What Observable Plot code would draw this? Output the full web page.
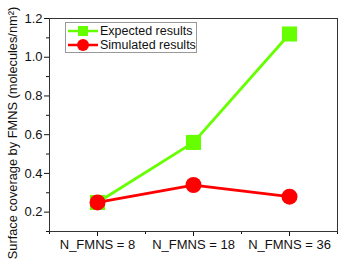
<!DOCTYPE html>
<html><head><meta charset="utf-8">
<script src="https://cdn.jsdelivr.net/npm/d3@7"></script>
<script src="https://cdn.jsdelivr.net/npm/@observablehq/plot@0.6"></script>
<style>
body{margin:0;background:#fff;font-family:"Liberation Sans",Arial,sans-serif;}
#wrap{position:relative;width:340px;height:269px;}
#legend{position:absolute;left:65px;top:22px;width:130px;height:28px;border:1px solid #999;background:#fff;font-size:12.5px;color:#111;padding:1px 0 0 0;}
#legend .row{display:flex;align-items:center;height:14px;}
#legend svg{margin-left:2px;margin-right:2px;}
</style></head><body><div id="wrap"></div>
<script>
const categories = ["N_FMNS = 8", "N_FMNS = 18", "N_FMNS = 36"];
const expected = [0.25, 0.56, 1.12];
const simulated = [0.25, 0.34, 0.28];
const yMajor = [0.2, 0.4, 0.6, 0.8, 1.0, 1.2];
const yMinor = [0.1, 0.3, 0.5, 0.7, 0.9, 1.1];
const seriesNames = ["Expected results", "Simulated results"];
const colors = ["#66ff00", "#ff0000"];
const yLabel = "Surface coverage by FMNS (molecules/nm²)";

const idx = categories.map((_, i) => i);
const xMinor = [-0.5, 0.5, 1.5, 2.5];

const plot = Plot.plot({
  width: 340, height: 269,
  marginLeft: 49, marginRight: 3, marginTop: 18, marginBottom: 38,
  style: {fontFamily: '"Liberation Sans", Arial, sans-serif', fontSize: "13px", color: "#111", background: "white"},
  x: {type: "linear", domain: [-0.5, 2.5]},
  y: {domain: [0.1, 1.2]},
  marks: [
    Plot.axisY({ticks: yMinor, tickSize: 3, tickFormat: () => "", label: null}),
    Plot.axisY({ticks: yMajor, tickSize: 5, tickPadding: 2, tickFormat: d3.format(".1f"), label: null}),
    Plot.text([yLabel], {frameAnchor: "left", textAnchor: "middle", rotate: -90, dx: -37, dy: 8, fontSize: 12.8, fill: "#111", text: d => d}),
    Plot.axisX({ticks: xMinor, tickSize: 3, tickFormat: () => "", label: null}),
    Plot.axisX({ticks: idx, tickSize: 5, tickPadding: 3, tickFormat: i => categories[i], label: null}),
    Plot.frame({stroke: "#333"}),
    Plot.line(idx, {x: i => i, y: i => expected[i], stroke: colors[0], strokeWidth: 2.8}),
    Plot.dot(idx, {x: i => i, y: i => expected[i], symbol: "square", r: 8.5, fill: colors[0]}),
    Plot.line(idx, {x: i => i, y: i => simulated[i], stroke: colors[1], strokeWidth: 2.8}),
    Plot.dot(idx, {x: i => i, y: i => simulated[i], symbol: "circle", r: 8, fill: colors[1]})
  ]
});
const wrap = document.getElementById("wrap");
wrap.appendChild(plot);

const legend = document.createElement("div");
legend.id = "legend";
const symbols = ["square", "circle"];
seriesNames.forEach((name, k) => {
  const row = document.createElement("div");
  row.className = "row";
  const marker = symbols[k] === "square"
    ? `<rect x="10" y="2" width="10" height="10" fill="${colors[k]}"/>`
    : `<circle cx="15" cy="7" r="6" fill="${colors[k]}"/>`;
  row.innerHTML = `<svg width="30" height="14"><line x1="0" x2="30" y1="7" y2="7" stroke="${colors[k]}" stroke-width="2.5"/>${marker}</svg><span>${name}</span>`;
  legend.appendChild(row);
});
wrap.appendChild(legend);
</script></body></html>
